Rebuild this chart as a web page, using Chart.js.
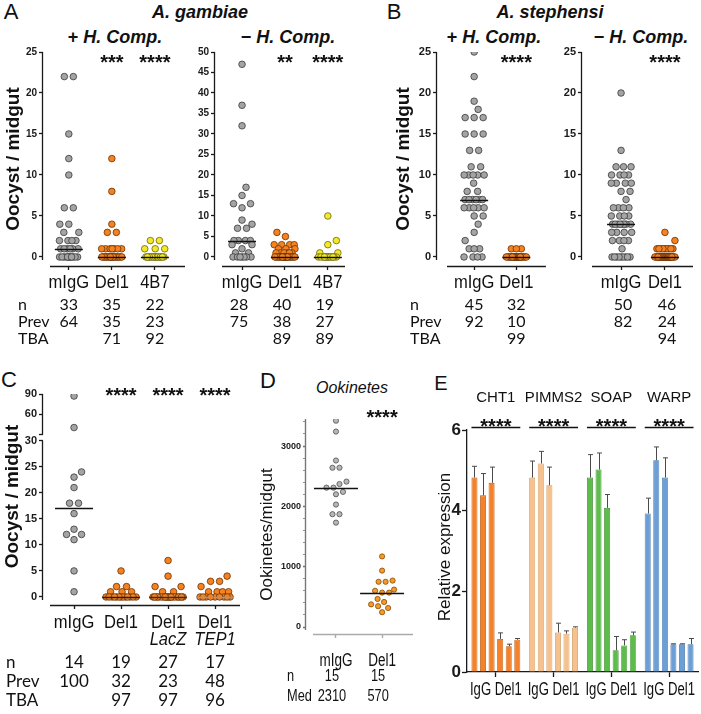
<!DOCTYPE html>
<html>
<head>
<meta charset="utf-8">
<script src="https://cdn.jsdelivr.net/npm/chart.js"></script>
<style>
body { margin: 0; background: #fff; }
#fig { position: relative; width: 701px; height: 714px; overflow: hidden; font-family: 'Liberation Sans', Arial, sans-serif; color: #111; }
#fig canvas { position: absolute; }
.t { position: absolute; transform: translate(-50%, -50%); white-space: nowrap; }
.ttl { font-weight: bold; font-style: italic; font-size: 18px; }
</style>
</head>
<body>
<div id="fig">
  <div class="t" style="left:11px;top:12px;font-size:22px">A</div>
  <div class="t ttl" style="left:200px;top:12px">A. gambiae</div>
  <div class="t ttl" style="left:115px;top:37px"><span style="font-style:normal">+</span> H. Comp.</div>
  <div class="t ttl" style="left:288px;top:37px"><span style="font-style:normal">&minus;</span> H. Comp.</div>
  <div class="t" style="left:394px;top:12px;font-size:22px">B</div>
  <div class="t ttl" style="left:550px;top:12px">A. stephensi</div>
  <div class="t ttl" style="left:494px;top:37px"><span style="font-style:normal">+</span> H. Comp.</div>
  <div class="t ttl" style="left:641px;top:37px"><span style="font-style:normal">&minus;</span> H. Comp.</div>
  <div class="t" style="left:9px;top:380px;font-size:22px">C</div>
  <div class="t" style="left:268px;top:381px;font-size:22px">D</div>
  <div class="t" style="left:352px;top:388px;font-size:16px;font-style:italic">Ookinetes</div>
  <div class="t" style="left:441px;top:383px;font-size:20px">E</div>
  <canvas id="a1"></canvas>
  <canvas id="a2"></canvas>
  <canvas id="b1"></canvas>
  <canvas id="b2"></canvas>
  <canvas id="c1"></canvas>
  <canvas id="d1"></canvas>
  <canvas id="e1"></canvas>
</div>
<script>
// ---- data ----
const aCats = ['mIgG', 'Del1', '4B7'];
const a1MIgG = [22, 22, 15, 12, 10, 6, 6, 4, 4, 3, 3, 2, 2, 2, 2, 1, 1, 1, 1, 1, 1, 0, 0, 0, 0, 0, 0, 0, 0, 0, 0, 0, 0];
const a1Del1 = [12, 8, 4, 3, 3, 1, 1, 1, 1, 1, 1, 1, 0, 0, 0, 0, 0, 0, 0, 0, 0, 0, 0, 0, 0, 0, 0, 0, 0, 0, 0, 0, 0, 0, 0];
const a14B7 = [2, 2, 1, 1, 1, 0, 0, 0, 0, 0, 0, 0, 0, 0, 0, 0, 0, 0, 0, 0, 0, 0];
const a2MIgG = [47, 37, 32, 17, 15, 13, 13, 12, 9, 8, 7, 7, 4, 4, 4, 4, 3, 3, 2, 1, 1, 0, 0, 0, 0, 0, 0, 0];
const a2Del1 = [6, 5, 3, 3, 3, 3, 2, 2, 2, 1, 1, 1, 1, 1, 1, 0, 0, 0, 0, 0, 0, 0, 0, 0, 0, 0, 0, 0, 0, 0, 0, 0, 0, 0, 0, 0, 0, 0, 0, 0];
const a24B7 = [10, 4, 3, 1, 1, 0, 0, 0, 0, 0, 0, 0, 0, 0, 0, 0, 0, 0, 0];
const a1Stars = ['', '***', '****'];
const a2Stars = ['', '**', '****'];
const a1N = [33, 35, 22], a1Prev = [64, 35, 23], a1Tba = ['', 71, 92];
const a2N = [28, 40, 19], a2Prev = [75, 38, 27], a2Tba = ['', 89, 89];

const bCats = ['mIgG', 'Del1'];
const b1MIgG = [25, 22, 19, 18, 17, 17, 17, 15, 15, 15, 13, 13, 11, 11, 10, 10, 10, 10, 10, 9, 8, 8, 7, 7, 7, 7, 7, 7, 6, 6, 6, 6, 6, 5, 5, 4, 3, 2, 1, 1, 1, 0, 0, 0, 0];
const b1Del1 = [1, 1, 1, 0, 0, 0, 0, 0, 0, 0, 0, 0, 0, 0, 0, 0, 0, 0, 0, 0, 0, 0, 0, 0, 0, 0, 0, 0, 0, 0, 0, 0];
const b2MIgG = [20, 13, 11, 11, 11, 10, 10, 10, 10, 9, 9, 9, 9, 8, 8, 7, 6, 6, 6, 6, 5, 5, 5, 5, 4, 4, 4, 4, 4, 4, 4, 4, 3, 3, 3, 3, 2, 2, 2, 2, 1, 0, 0, 0, 0, 0, 0, 0, 0, 0];
const b2Del1 = [3, 2, 1, 1, 1, 1, 1, 1, 1, 1, 1, 0, 0, 0, 0, 0, 0, 0, 0, 0, 0, 0, 0, 0, 0, 0, 0, 0, 0, 0, 0, 0, 0, 0, 0, 0, 0, 0, 0, 0, 0, 0, 0, 0, 0, 0];
const bStars = ['', '****'];
const b1N = [45, 32], b1Prev = [92, 10], b1Tba = ['', 99];
const b2N = [50, 46], b2Prev = [82, 24], b2Tba = ['', 94];

const cCats = [['mIgG'], ['Del1'], ['Del1', 'LacZ'], ['Del1', 'TEP1']];
const cMIgG = [87, 40, 24, 23, 21, 18, 18, 16, 13, 12, 12, 11, 5, 1];
const cDel1 = [5, 2, 2, 1, 1, 1, 0, 0, 0, 0, 0, 0, 0, 0, 0, 0, 0, 0, 0];
const cLacZ = [7, 4, 2, 2, 1, 1, 0, 0, 0, 0, 0, 0, 0, 0, 0, 0, 0, 0, 0, 0, 0, 0, 0, 0, 0, 0, 0];
const cTep1 = [4, 3, 3, 2, 1, 1, 1, 1, 0, 0, 0, 0, 0, 0, 0, 0, 0];
const cStars = ['', '****', '****', '****'];
const cN = [14, 19, 27, 17], cPrev = [100, 32, 23, 48], cTba = ['', 97, 97, 96];
const cLowTicks = [0, 5, 10, 15, 20, 25, 30];
const cTopTicks = [30, 60, 90], cTopLabels = ['', '60', '90'];

const dCats = ['mIgG', 'Del1'];
const dMIgG = [3420, 3240, 2760, 2640, 2640, 2410, 2370, 2310, 2310, 2240, 2200, 2030, 1870, 1870, 1730];
const dDel1 = [1170, 935, 770, 750, 750, 620, 600, 570, 570, 465, 415, 375, 345, 315, 245];
const dStars = ['', '****'];
const dN = [15, 15], dMed = [2310, 570];
const dTicks = [0, 200, 400, 600, 800, 1000, 1200, 1400, 1600, 1800, 2000, 2200, 2400, 2600, 2800, 3000, 3200, 3400];

const eGenes = ['CHT1', 'PIMMS2', 'SOAP', 'WARP'];
const eCht1 = [4.82, 4.38, 4.69, 0.82, 0.64, 0.80];
const ePimms2 = [4.82, 5.17, 4.63, 0.98, 0.95, 1.10];
const eSoap = [4.82, 5.02, 4.07, 0.54, 0.66, 0.91];
const eWarp = [3.93, 5.25, 4.82, 0.69, 0.69, 0.69];
const eCht1Err = [0.28, 0.54, 0.39, 0.15, 0.05, 0.03];
const ePimms2Err = [0.41, 0.30, 0.45, 0.23, 0.07, 0.02];
const eSoapErr = [0.57, 0.41, 0.33, 0.34, 0.14, 0.08];
const eWarpErr = [0.38, 0.33, 0.49, 0.01, 0.01, 0.14];
const eTicks = [0, 2, 4, 6];

// ---- drawing ----
const SANS = "'Liberation Sans', Arial, sans-serif";
const LATO = "Lato, 'Open Sans', sans-serif";
const GRAY = ['#a4a4a4', '#3a3a3a'], ORANGE = ['#f58220', '#6a3208'], YELLOW = ['#f3e928', '#6b6410'];

function txt(ctx, s, x, y, font, sx, align) {
  ctx.save();
  ctx.font = font; ctx.textAlign = align || 'center'; ctx.textBaseline = 'middle';
  ctx.translate(x, y); ctx.scale(sx || 1, 1);
  ctx.fillText(String(s), 0, 0);
  ctx.restore();
}
function stars(ctx, s, x, y) {
  ctx.save();
  ctx.font = 'bold 20px ' + SANS; ctx.textAlign = 'center'; ctx.textBaseline = 'alphabetic';
  ctx.fillText(s, x, y + 11.5);
  ctx.restore();
}

function place(pts, d, half) {
  pts.sort((p, q) => p.v - q.v);
  const done = [];
  const minDist = (x, py, list) => list.reduce((m, q) => Math.min(m, Math.hypot(x - q.px, py - q.py)), Infinity);
  let i = 0;
  while (i < pts.length) {
    let j = i;
    while (j < pts.length && pts[j].v === pts[i].v) j++;
    const row = pts.slice(i, j), before = done.slice();
    row.forEach(q => {
      let best = 0, score = -1, found = false;
      for (let s = 0; s <= half && !found; s += 0.5) {
        for (const x of (s ? [s, -s] : [0])) {
          const m = minDist(x, q.py, done);
          if (m >= d) { best = x; found = true; break; }
          if (m > score + 1e-6) { score = m; best = x; }
        }
      }
      q.px = best; done.push(q);
    });
    const mean = row.reduce((s, q) => s + q.px, 0) / row.length;
    if (Math.abs(mean) > 0.01) {
      const cur = row.reduce((m, q) => Math.min(m, minDist(q.px, q.py, before)), Infinity);
      const sh = row.reduce((m, q) => Math.min(m, minDist(q.px - mean, q.py, before)), Infinity);
      if (sh >= Math.min(d, cur) - 0.01) row.forEach(q => { q.px -= mean; });
    }
    i = j;
  }
}

function swarm(chart, p) {
  const xs = chart.scales.x, unit = xs.getPixelForValue(1) - xs.getPixelForValue(0);
  p.groups.forEach((_, i) => {
    const pts = [];
    chart.data.datasets.forEach(ds => {
      if (ds.cat !== i) return;
      const sc = chart.scales[ds.yAxisID];
      ds.vals.forEach((v, k) => pts.push({ ds, k, v, py: sc.getPixelForValue(v) }));
    });
    place(pts, p.gap, p.spread);
    pts.forEach(q => { q.ds.data[q.k] = { x: i + q.px / unit, y: q.v }; });
  });
  chart.update('none');
}

function panelPlugin(p) {
  const b = p.box;
  return {
    id: 'panel',
    afterDatasetsDraw(chart) {
      const ctx = chart.ctx, xs = chart.scales.x;
      ctx.save();
      p.groups.forEach((vals, i) => {
        const s = vals.slice().sort((u, v) => u - v), n = s.length;
        const m = n % 2 ? s[(n - 1) / 2] : (s[n / 2 - 1] + s[n / 2]) / 2;
        const sc = chart.scales[p.split != null && m > p.split ? 'yTop' : 'y'];
        const x = xs.getPixelForValue(i), y = Math.round(sc.getPixelForValue(m)) + 0.5;
        ctx.strokeStyle = p.medColor ? p.medColor[i] : '#111';
        ctx.lineWidth = 1.5;
        ctx.beginPath(); ctx.moveTo(x - p.medW, y); ctx.lineTo(x + p.medW, y); ctx.stroke();
      });
      ctx.restore();
    },
    afterDraw(chart) {
      const ctx = chart.ctx, a = chart.chartArea, xs = chart.scales.x;
      ctx.save();
      ctx.lineWidth = p.axisW;
      ctx.strokeStyle = p.axisColor;
      const lx = Math.round(a.left) - 0.5;
      p.yLines.forEach(l => {
        const sc = chart.scales[l.id];
        ctx.beginPath(); ctx.moveTo(lx, sc.getPixelForValue(l.from)); ctx.lineTo(lx, sc.getPixelForValue(l.to) + (l.ext || 0)); ctx.stroke();
      });
      ctx.strokeStyle = p.xColor || p.axisColor;
      const ly = Math.round(a.bottom) + 0.5;
      ctx.beginPath(); ctx.moveTo(a.left + p.xGap, ly); ctx.lineTo(a.right, ly); ctx.stroke();
      ctx.fillStyle = '#111';
      // significance stars
      p.stars.forEach((s, i) => { if (s) stars(ctx, s, xs.getPixelForValue(i), p.starY - b.t); });
      // category labels
      p.labels.forEach((lines, i) => {
        lines.forEach((s, k) => txt(ctx, s, xs.getPixelForValue(i), p.labelY[k] - b.t, p.labelFont[k], p.labelSx));
      });
      // table below
      const tb = p.table;
      tb.rows.forEach((r, k) => {
        const y = tb.y[k] - b.t;
        if (tb.nameX != null) txt(ctx, r[0], tb.nameX - b.l, y, tb.font, tb.sx, 'left');
        r[1].forEach((v, i) => { if (v !== '') txt(ctx, v, xs.getPixelForValue(i) + (tb.dx || 0), y, tb.font, tb.sx); });
      });
      // y title
      if (p.yTitle) {
        ctx.save();
        ctx.translate(p.yTitle.x - b.l, (a.top + a.bottom) / 2 + (p.yTitle.dy || 0));
        ctx.rotate(-Math.PI / 2);
        ctx.font = p.yTitle.font; ctx.textAlign = 'center'; ctx.textBaseline = 'middle';
        ctx.fillText(p.yTitle.text, 0, 0);
        ctx.restore();
      }
      ctx.restore();
    }
  };
}

function makeScatter(id, p) {
  const cv = document.getElementById(id), b = p.box, a = p.area;
  cv.width = b.w; cv.height = b.h;
  cv.style.left = b.l + 'px'; cv.style.top = b.t + 'px';
  const datasets = [];
  p.groups.forEach((vals, i) => {
    const parts = p.split == null ? [['y', vals]]
      : [['yTop', vals.filter(v => v > p.split)], ['y', vals.filter(v => v <= p.split)]];
    parts.forEach(([ax, vv]) => {
      if (!vv.length) return;
      datasets.push({
        cat: i, vals: vv, yAxisID: ax, data: vv.map(v => ({ x: i, y: v })),
        backgroundColor: p.colors[i][0], borderColor: p.colors[i][1], borderWidth: p.bw,
        pointRadius: p.r, pointHoverRadius: p.r
      });
    });
  });
  const yAxis = (ys, extra) => Object.assign({
    type: 'linear', position: 'left', min: ys.min, max: ys.max,
    afterBuildTicks: s => { s.ticks = ys.ticks.map(v => ({ value: v })); },
    afterFit: s => { s.width = a.l - b.l; },
    ticks: { autoSkip: false, padding: p.tickPad, color: '#1a1a1a', font: p.tickFont,
      callback: (v, i) => ys.labels ? ys.labels[i] : String(v) },
    grid: { drawOnChartArea: false, tickLength: p.tickLen, tickColor: p.axisColor,
      tickWidth: ys.tickW || p.axisW },
    border: { display: false }
  }, extra);
  const scales = {
    x: {
      type: 'linear', position: 'bottom', min: p.xMin, max: p.xMax,
      afterBuildTicks: s => { s.ticks = p.groups.map((_, i) => ({ value: i })); },
      afterFit: s => { s.height = 0; },
      ticks: { display: false },
      grid: { drawOnChartArea: false, tickLength: 4, tickColor: p.xColor || p.axisColor, tickWidth: p.axisW },
      border: { display: false }
    }
  };
  // broken axis: lower part defined first, the upper one stacks above it
  scales.y = yAxis(p.lower, p.upper ? { stack: 'brk', stackWeight: p.lower.weight } : {});
  if (p.upper) scales.yTop = yAxis(p.upper, { stack: 'brk', stackWeight: p.upper.weight });
  const chart = new Chart(cv, {
    type: 'scatter',
    data: { datasets },
    options: {
      responsive: false, animation: false, events: [],
      layout: { padding: { left: 0, top: a.t - b.t, right: b.l + b.w - a.r, bottom: b.t + b.h - a.b } },
      plugins: { legend: { display: false }, tooltip: { enabled: false } },
      scales
    },
    plugins: [panelPlugin(p)]
  });
  swarm(chart, p);
  return chart;
}

const baseAB = {
  axisColor: '#1a1a1a', axisW: 1.3, tickLen: 4, tickPad: 2,
  bw: 0.8, r: 3.3, gap: 9, spread: 10, medW: 14, xGap: 7,
  labelY: [283], labelFont: ['18px ' + SANS], labelSx: 0.92
};

makeScatter('a1', Object.assign({}, baseAB, {
  box: { l: 0, t: 40, w: 190, h: 310 }, area: { l: 43, r: 185, t: 52, b: 266 },
  groups: [a1MIgG, a1Del1, a14B7], colors: [GRAY, ORANGE, YELLOW],
  lower: { min: -1.1, max: 25, ticks: [0, 5, 10, 15, 20, 25] },
  yLines: [{ id: 'y', from: 25, to: 0, ext: 3 }],
  xMin: -0.6, xMax: 2.7, tickFont: { family: SANS, size: 10, weight: 'bold' },
  stars: a1Stars, starY: 57, labels: aCats.map(c => [c]),
  table: { rows: [['n', a1N], ['Prev', a1Prev], ['TBA', a1Tba]], y: [305, 322, 339], nameX: 18, font: '16px ' + LATO },
  yTitle: { text: 'Oocyst / midgut', x: 14, font: 'bold 19px ' + SANS }
}));

makeScatter('a2', Object.assign({}, baseAB, {
  box: { l: 192, t: 40, w: 158, h: 310 }, area: { l: 215, r: 345, t: 52, b: 266 },
  groups: [a2MIgG, a2Del1, a24B7], colors: [GRAY, ORANGE, YELLOW],
  lower: { min: -2.2, max: 50, ticks: [0, 5, 10, 15, 20, 25, 30, 35, 40, 45, 50] },
  yLines: [{ id: 'y', from: 50, to: 0, ext: 3 }],
  xMin: -0.63, xMax: 2.4, tickFont: { family: SANS, size: 10, weight: 'bold' },
  stars: a2Stars, starY: 57, labels: aCats.map(c => [c]),
  table: { rows: [['n', a2N], ['Prev', a2Prev], ['TBA', a2Tba]], y: [305, 322, 339], font: '16px ' + LATO, dx: -3 }
}));

makeScatter('b1', Object.assign({}, baseAB, {
  box: { l: 390, t: 40, w: 160, h: 310 }, area: { l: 437, r: 547, t: 52, b: 266 },
  groups: [b1MIgG, b1Del1], colors: [GRAY, ORANGE], xGap: 10,
  lower: { min: -1.1, max: 25, ticks: [0, 5, 10, 15, 20, 25] },
  yLines: [{ id: 'y', from: 25, to: 0, ext: 3 }],
  xMin: -0.88, xMax: 1.7, tickFont: { family: SANS, size: 11, weight: 'bold' },
  stars: bStars, starY: 57, labels: bCats.map(c => [c]),
  table: { rows: [['n', b1N], ['Prev', b1Prev], ['TBA', b1Tba]], y: [305, 322, 339], nameX: 410, font: '16px ' + LATO },
  yTitle: { text: 'Oocyst / midgut', x: 404, font: 'bold 19px ' + SANS }
}));

makeScatter('b2', Object.assign({}, baseAB, {
  box: { l: 555, t: 40, w: 146, h: 310 }, area: { l: 582, r: 693, t: 52, b: 266 },
  groups: [b2MIgG, b2Del1], colors: [GRAY, ORANGE], xGap: 10,
  lower: { min: -1.1, max: 25, ticks: [0, 5, 10, 15, 20, 25] },
  yLines: [{ id: 'y', from: 25, to: 0, ext: 3 }],
  xMin: -0.89, xMax: 1.64, tickFont: { family: SANS, size: 11, weight: 'bold' },
  stars: bStars, starY: 57, labels: bCats.map(c => [c]),
  table: { rows: [['n', b2N], ['Prev', b2Prev], ['TBA', b2Tba]], y: [305, 322, 339], font: '16px ' + LATO, dx: 2 }
}));

makeScatter('c1', Object.assign({}, baseAB, {
  box: { l: 0, t: 365, w: 245, h: 349 }, area: { l: 43, r: 240, t: 394, b: 605 },
  groups: [cMIgG, cDel1, cLacZ, cTep1], colors: [GRAY, ORANGE, ORANGE, ORANGE],
  split: 30, spread: 15, medW: 19, medColor: ['#111', '#222', '#333', '#999'],
  upper: { min: 25.2, max: 90, ticks: cTopTicks, labels: cTopLabels, weight: 43.5 },
  lower: { min: -1.54, max: 30.61, ticks: cLowTicks, weight: 167.5 },
  yLines: [{ id: 'yTop', from: 90, to: 30 }, { id: 'y', from: 30, to: 0, ext: 3 }],
  xMin: -0.66, xMax: 3.53, tickFont: { family: SANS, size: 11, weight: 'bold' },
  stars: cStars, starY: 390, labels: cCats, labelY: [623, 640],
  labelFont: ['18px ' + SANS, 'italic 18px ' + SANS],
  table: { rows: [['n', cN], ['Prev', cPrev], ['TBA', cTba]], y: [663, 682, 701], nameX: 6, font: '17px ' + LATO },
  yTitle: { text: 'Oocyst / midgut', x: 13, font: 'bold 19px ' + SANS, dy: -3 }
}));

makeScatter('d1', {
  box: { l: 250, t: 395, w: 172, h: 319 }, area: { l: 306, r: 413, t: 419, b: 634 },
  groups: [dMIgG, dDel1], colors: [['#b6b6b6', '#505050'], ['#f39a2c', '#8a4a00']],
  axisColor: '#777', xColor: '#aaa', axisW: 1.4, tickLen: 3, tickPad: 2,
  bw: 0.8, r: 2.6, gap: 7, spread: 12, medW: 22, xGap: 7,
  lower: { min: -116, max: 3448, ticks: dTicks,
    labels: dTicks.map(v => v % 1000 === 0 ? String(v) : ''),
    tickW: c => (c.tick && c.tick.value % 1000 === 0 ? 1.6 : 0.8) },
  yLines: [{ id: 'y', from: 3448, to: 0, ext: 3 }],
  xMin: -0.65, xMax: 1.67, tickFont: { family: SANS, size: 9, weight: 'bold' },
  stars: dStars, starY: 412, labels: dCats.map(c => [c]), labelY: [661],
  labelFont: ['18px ' + SANS], labelSx: 0.75,
  table: { rows: [['n', dN], ['Med', dMed]], y: [677, 697], nameX: 287, font: '16px ' + SANS, sx: 0.8, dx: -4 },
  yTitle: { text: 'Ookinetes/midgut', x: 267, font: '17px ' + SANS, dy: 8 }
});

// ---- panel E: bars with error bars ----
(function () {
  const cv = document.getElementById('e1');
  const b = { l: 422, t: 392, w: 279, h: 322 }, a = { l: 467, r: 698, t: 430, b: 672 };
  cv.width = b.w; cv.height = b.h;
  cv.style.left = b.l + 'px'; cv.style.top = b.t + 'px';
  const means = [eCht1, ePimms2, eSoap, eWarp];
  const errs = [eCht1Err, ePimms2Err, eSoapErr, eWarpErr];
  const fills = ['#f5822a', '#f6c18c', '#5cbd4a', '#6b9fd6'];
  const edges = ['#b5580f', '#c79558', '#3b8a2d', '#3f70a8'];
  const datasets = [0, 1, 2, 3, 4, 5].map(k => ({
    data: means.map(g => g[k]), err: errs.map(g => g[k]),
    backgroundColor: fills, borderColor: edges, borderWidth: 0.8,
    barPercentage: 0.7, categoryPercentage: 0.89
  }));
  const plug = {
    id: 'eExtras',
    afterDatasetsDraw(chart) {
      const ctx = chart.ctx, ys = chart.scales.y;
      ctx.save();
      ctx.strokeStyle = '#4a4a4a'; ctx.lineWidth = 1;
      chart.data.datasets.forEach((ds, k) => {
        chart.getDatasetMeta(k).data.forEach((el, j) => {
          const x = Math.round(el.x) + 0.5, yTop = ys.getPixelForValue(ds.data[j] + ds.err[j]);
          ctx.beginPath();
          ctx.moveTo(x, el.y); ctx.lineTo(x, yTop);
          ctx.moveTo(x - 2.5, yTop); ctx.lineTo(x + 2.5, yTop);
          ctx.stroke();
        });
      });
      ctx.restore();
    },
    afterDraw(chart) {
      const ctx = chart.ctx, xs = chart.scales.x, ar = chart.chartArea;
      const first = chart.getDatasetMeta(0).data, last = chart.getDatasetMeta(5).data;
      ctx.save();
      ctx.fillStyle = '#111'; ctx.strokeStyle = '#111'; ctx.lineWidth = 1.3;
      eGenes.forEach((g, j) => {
        const cx = xs.getPixelForValue(j);
        txt(ctx, g, cx, 398 - b.t, '15px ' + SANS);
        const x0 = first[j].x - first[j].width / 2, x1 = last[j].x + last[j].width / 2;
        const ly = 427.5 - b.t;
        ctx.beginPath(); ctx.moveTo(x0, ly); ctx.lineTo(x1, ly); ctx.stroke();
        stars(ctx, '****', (x0 + x1) / 2, 421 - b.t);
        txt(ctx, 'IgG Del1', cx, 690 - b.t, '18px ' + SANS, 0.73);
      });
      ctx.translate(445 - b.l, (ar.top + ar.bottom) / 2 - 4);
      ctx.rotate(-Math.PI / 2);
      ctx.font = '17px ' + SANS; ctx.textAlign = 'center'; ctx.textBaseline = 'middle';
      ctx.fillText('Relative expression', 0, 0);
      ctx.restore();
    }
  };
  new Chart(cv, {
    type: 'bar',
    data: { labels: eGenes, datasets },
    options: {
      responsive: false, animation: false, events: [],
      layout: { padding: { left: 0, top: a.t - b.t, right: b.l + b.w - a.r, bottom: b.t + b.h - a.b } },
      plugins: { legend: { display: false }, tooltip: { enabled: false } },
      scales: {
        x: {
          offset: true,
          afterFit: s => { s.height = 0; },
          ticks: { display: false },
          grid: { offset: false, drawOnChartArea: false, tickLength: 5, tickColor: '#1a1a1a', tickWidth: 1.3 },
          border: { color: '#1a1a1a', width: 1.3 }
        },
        y: {
          min: 0, max: 6,
          afterBuildTicks: s => { s.ticks = eTicks.map(v => ({ value: v })); },
          afterFit: s => { s.width = a.l - b.l; },
          ticks: { autoSkip: false, padding: 1, color: '#1a1a1a', font: { family: SANS, size: 17, weight: 'bold' } },
          grid: { drawOnChartArea: false, tickLength: 5, tickColor: '#1a1a1a', tickWidth: 1.3 },
          border: { color: '#1a1a1a', width: 1.3 }
        }
      }
    },
    plugins: [plug]
  });
})();
</script>
</body>
</html>
